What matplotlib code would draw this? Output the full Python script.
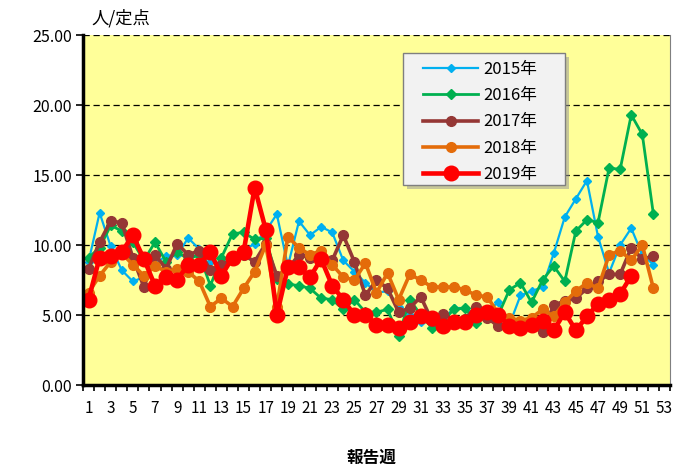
import numpy as np
import matplotlib
matplotlib.use("Agg")
import matplotlib.pyplot as plt
from matplotlib.patches import Rectangle

plt.rcParams['font.family'] = ['Noto Sans CJK JP', 'DejaVu Sans']

# reported cases per sentinel, by report week
y2015 = [8.8, 12.3, 9.9, 8.2, 7.4, 7.7, 8.7, 9.2, 9.3, 10.5, 9.7, 8.8, 8.7, 9.0, 9.6, 10.1,
         11.0, 12.2, 8.5, 11.7, 10.7, 11.3, 10.9, 8.9, 8.1, 7.3, 6.6, 6.7, 5.6, 5.0, 4.5, 4.8,
         4.7, 5.5, 5.5, 5.0, 5.3, 5.9, 4.3, 6.4, 6.7, 7.0, 9.4, 12.0, 13.3, 14.6, 10.6, 8.0,
         10.0, 11.2, 9.3, 8.6]
y2016 = [9.1, 9.8, 11.4, 11.0, 10.2, 8.9, 10.2, 8.8, 9.5, 9.0, 9.3, 7.1, 9.1, 10.8, 10.9, 10.4,
         10.5, 7.6, 7.2, 7.1, 6.9, 6.2, 6.1, 5.4, 6.1, 5.2, 5.2, 5.4, 3.5, 6.1, 5.0, 4.1,
         4.6, 5.4, 5.5, 4.4, 5.0, 5.0, 6.8, 7.3, 5.9, 7.5, 8.5, 7.4, 11.0, 11.8, 11.6, 15.5,
         15.4, 19.3, 17.9, 12.2]
y2017 = [8.3, 10.2, 11.7, 11.6, 9.1, 7.0, 9.3, 8.3, 10.1, 9.3, 9.6, 8.2, 8.6, 9.0, 9.3, 8.8,
         10.1, 7.8, 8.3, 9.3, 9.1, 8.9, 8.9, 10.7, 8.8, 6.4, 7.5, 6.9, 5.2, 5.5, 6.3, 4.6,
         5.1, 4.6, 4.7, 5.6, 4.8, 4.2, 4.5, 4.5, 4.2, 3.8, 5.7, 6.0, 6.2, 6.9, 7.4, 7.9,
         7.9, 9.8, 9.0, 9.2]
y2018 = [6.6, 7.8, 8.8, 9.4, 8.6, 7.8, 8.5, 8.1, 8.3, 8.1, 7.4, 5.6, 6.2, 5.6, 6.9, 8.1,
         10.0, 5.6, 10.6, 9.8, 9.3, 9.6, 8.6, 7.7, 7.5, 8.7, 6.6, 8.0, 6.1, 7.9, 7.5, 7.0,
         7.0, 7.0, 6.8, 6.4, 6.3, 5.1, 4.8, 4.6, 4.8, 5.4, 4.9, 5.9, 6.7, 7.3, 6.9, 9.3,
         9.6, 8.9, 10.0, 6.9]
y2019 = [6.1, 9.1, 9.2, 9.5, 10.7, 9.0, 7.1, 7.7, 7.5, 8.6, 8.6, 9.5, 7.8, 9.1, 9.5, 14.1,
         11.1, 5.0, 8.4, 8.4, 7.7, 9.0, 7.1, 6.1, 5.0, 5.0, 4.3, 4.3, 4.1, 4.5, 4.9, 4.8,
         4.2, 4.5, 4.5, 5.0, 5.2, 5.0, 4.2, 4.1, 4.3, 4.6, 3.9, 5.2, 3.9, 4.9, 5.8, 6.1,
         6.5, 7.8]

series = [
    ("2015年", y2015, "#00b0f0", "D", 1.6, 4.5),
    ("2016年", y2016, "#00b050", "D", 2.0, 5.5),
    ("2017年", y2017, "#953735", "o", 2.6, 7.0),
    ("2018年", y2018, "#e46c0a", "o", 2.6, 7.0),
    ("2019年", y2019, "#ff0000", "o", 3.3, 10.5),
]

fig = plt.figure(figsize=(6.75, 4.68), dpi=100)
ax = fig.add_axes([83/675, 1-385/468, 587/675, 350/468])
ax.set_facecolor("#ffff99")

for label, vals, col, mk, lw, ms in series:
    wk = np.arange(1, len(vals) + 1)
    ax.plot(wk, vals, color=col, marker=mk, lw=lw, ms=ms, label=label)

ax.set_xlim(0.5, 53.5)
ax.set_ylim(0, 25)
ax.set_yticks(np.arange(0, 26, 5))
ax.set_yticklabels([f"{v:.2f}" for v in np.arange(0, 26, 5)], fontsize=11.5)
ax.set_xticks(np.arange(1, 54, 2))
ax.set_xticklabels([str(w) for w in range(1, 54, 2)], fontsize=11)
ax.set_xticks(np.arange(0.5, 54, 1), minor=True)
ax.tick_params(axis='x', which='major', length=0, pad=11)
ax.tick_params(axis='x', which='minor', length=4, width=1.2, direction='out')
ax.tick_params(axis='y', length=5, width=1.2, direction='out', pad=3)

ax.grid(axis='y', color='black', ls=(0, (5, 3)), lw=0.9)
ax.set_axisbelow(True)
ax.spines['top'].set_visible(False)
ax.spines['right'].set_color('#7f7f7f')
ax.spines['right'].set_linewidth(0.8)
ax.spines['left'].set_linewidth(2.5)
ax.spines['bottom'].set_linewidth(2.5)

# legend box drawn by hand (wider side padding than matplotlib's frame)
x0, x1 = (403-83)/587, (565-83)/587
yb, yt = (385-185)/350, (385-53)/350
ax.add_patch(Rectangle((x0+0.007, yb-0.012), x1-x0, yt-yb, transform=ax.transAxes,
                       facecolor='#9a9a9a', alpha=0.55, edgecolor='none', zorder=5))
ax.add_patch(Rectangle((x0, yb), x1-x0, yt-yb, transform=ax.transAxes,
                       facecolor='#f2f2f2', edgecolor='#7f7f7f', lw=1.0, zorder=6))
leg = ax.legend(loc='upper left', bbox_to_anchor=((423-83)/587, (385-61)/350),
                borderaxespad=0, borderpad=0, frameon=False, fontsize=12,
                handlelength=3.3, handletextpad=0.3, labelspacing=0.55)
leg.set_zorder(7)

fig.text(0.135, 0.962, "人/定点", fontsize=12.5, va='center', ha='left')
fig.text(0.551, 0.021, "報告週", fontsize=12, va='center', ha='center', fontweight='bold')

fig.savefig("out.png", dpi=100)
